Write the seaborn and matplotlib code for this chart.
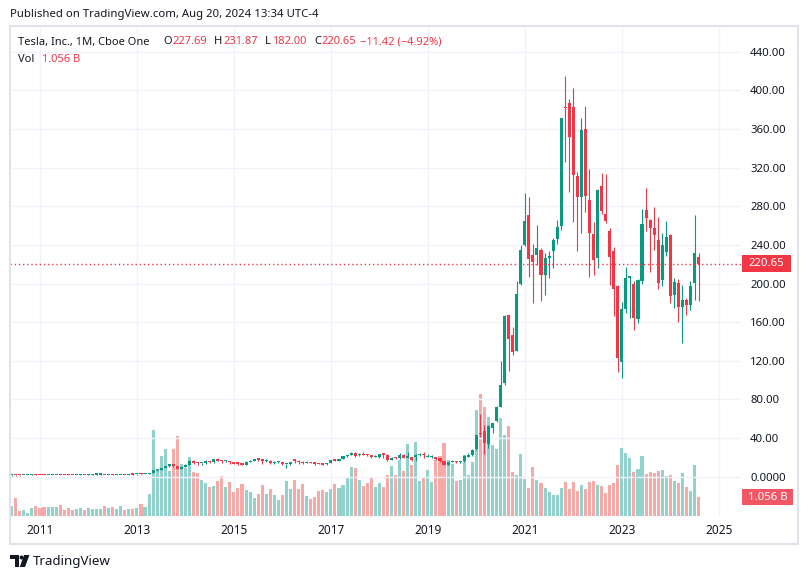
import numpy as np
import pandas as pd
import matplotlib
matplotlib.use("Agg")
import matplotlib.pyplot as plt
import seaborn as sns
from matplotlib.patches import Rectangle, Circle, Polygon

# monthly candles, Jun 2010 .. Aug 2024 (split adjusted)
opens = [
    1.27, 1.67, 1.33, 1.31, 1.37, 1.45, 2.33,                                    # 2010
    1.79, 1.61, 1.60, 1.78, 1.79, 2.00, 1.95, 1.87, 1.65, 1.60, 1.92, 2.18,      # 2011
    1.93, 1.94, 2.25, 2.20, 2.22, 1.99, 2.08, 1.85, 1.92, 1.95, 1.90, 2.28,      # 2012
    2.33, 2.52, 2.36, 2.53, 3.80, 6.45, 7.21, 9.05, 11.27, 12.95, 10.79, 8.43,   # 2013
    10.05, 12.10, 16.33, 14.00, 13.75, 13.80, 15.88, 14.95, 18.05, 16.17, 16.13, 16.30,
    14.86, 13.61, 13.55, 12.58, 15.09, 16.64, 18.07, 17.69, 16.45, 16.58, 13.80, 15.34,
    15.38, 12.70, 12.83, 16.70, 16.69, 14.92, 13.95, 15.60, 14.12, 13.73, 13.16, 12.65,
    14.32, 16.75, 16.68, 18.61, 20.95, 22.74, 24.26, 21.97, 23.83, 22.76, 22.11, 20.54,
    20.80, 23.40, 22.93, 17.69, 19.53, 18.96, 22.64, 19.87, 20.18, 20.30, 22.43, 24.00,
    20.41, 20.57, 20.74, 18.92, 15.91, 12.39, 15.33, 16.17, 15.14, 16.21, 20.84, 22.05,
    28.30, 44.91, 47.42, 33.60, 50.33, 57.20, 72.20, 96.60, 167.40, 146.90, 130.30, 199.20,
    239.82, 271.43, 230.04, 229.46, 234.60, 208.73, 227.00, 233.33, 245.70, 259.47, 381.67, 386.90,
    382.58, 311.74, 289.89, 360.38, 286.92, 251.72, 227.00, 301.28, 272.58, 254.50, 234.05, 197.08,
    118.47, 173.89, 206.21, 199.91, 163.17, 202.59, 276.49, 266.26, 257.26, 244.81, 204.04, 233.14,
    250.08, 188.50, 200.52, 176.17, 182.85, 178.12, 201.02, 227.69,
]
highs = [
    1.67, 1.73, 1.43, 1.48, 1.47, 2.40, 2.40,
    1.83, 1.66, 1.87, 1.88, 2.07, 2.03, 1.99, 1.88, 1.95, 2.00, 2.33, 2.28,
    2.60, 2.33, 2.48, 2.55, 2.25, 2.23, 2.43, 2.02, 2.06, 2.04, 2.30, 2.30,
    2.63, 2.69, 2.60, 3.68, 7.33, 8.15, 9.17, 11.48, 12.97, 12.97, 11.30, 10.92,
    12.95, 17.68, 17.69, 15.67, 14.45, 16.93, 16.37, 18.10, 19.43, 17.26, 16.94, 16.50,
    15.28, 14.74, 14.44, 15.86, 16.87, 18.49, 18.72, 17.97, 18.73, 16.85, 15.97, 16.02,
    15.38, 13.17, 15.51, 17.97, 16.79, 15.79, 15.97, 15.73, 14.76, 14.42, 13.80, 14.38,
    17.30, 18.82, 18.73, 21.69, 22.90, 25.97, 25.70, 24.60, 25.97, 23.84, 22.40, 22.43,
    23.90, 24.03, 23.64, 20.83, 20.70, 24.92, 23.40, 25.83, 20.49, 23.07, 24.44, 25.30,
    23.47, 22.45, 20.79, 19.74, 16.62, 15.25, 17.73, 16.23, 16.57, 22.00, 24.13, 29.02,
    43.53, 64.60, 53.80, 53.80, 55.87, 72.90, 119.67, 167.50, 167.50, 155.30, 202.60, 239.57,
    293.50, 290.15, 241.05, 260.26, 237.33, 232.00, 233.33, 246.80, 266.33, 371.74, 414.50, 390.95,
    402.67, 315.67, 371.59, 384.29, 318.50, 264.21, 298.32, 314.67, 313.80, 257.50, 237.40, 198.92,
    180.68, 217.65, 207.79, 202.69, 204.48, 276.99, 299.29, 266.47, 278.98, 268.94, 252.75, 265.13,
    251.25, 205.60, 204.52, 198.87, 184.77, 203.20, 271.00, 231.87,
]
lows = [
    1.05, 1.00, 1.17, 1.30, 1.35, 1.40, 1.73,
    1.57, 1.44, 1.40, 1.61, 1.75, 1.79, 1.78, 1.51, 1.58, 1.55, 1.85, 1.80,
    1.85, 1.93, 2.17, 2.13, 1.95, 1.94, 1.76, 1.80, 1.85, 1.82, 1.85, 2.17,
    2.23, 2.28, 2.34, 2.53, 3.80, 5.73, 7.09, 8.60, 10.53, 9.99, 7.80, 8.25,
    9.71, 11.83, 13.23, 12.13, 12.03, 13.27, 14.39, 14.28, 16.00, 13.73, 15.69, 13.17,
    12.67, 12.52, 11.90, 12.46, 14.93, 16.39, 16.11, 13.10, 15.74, 13.57, 13.56, 14.53,
    12.50, 9.40, 12.51, 14.57, 13.65, 13.23, 13.73, 14.05, 12.57, 13.07, 12.58, 12.63,
    14.10, 16.37, 16.57, 18.51, 20.11, 22.26, 20.52, 21.04, 22.93, 21.01, 19.11, 20.00,
    19.75, 19.50, 16.55, 16.80, 18.12, 18.56, 19.40, 19.35, 16.56, 16.57, 21.07, 19.70,
    19.93, 19.05, 17.27, 15.40, 12.25, 11.80, 14.87, 14.07, 14.61, 15.13, 20.53, 21.77,
    28.11, 40.76, 23.37, 29.76, 45.57, 56.50, 72.00, 94.70, 109.96, 126.40, 130.00, 199.00,
    239.06, 206.33, 179.83, 219.00, 182.33, 188.00, 206.30, 216.28, 240.60, 255.70, 326.20, 295.37,
    264.00, 233.33, 252.01, 273.90, 206.86, 208.69, 216.16, 271.81, 262.47, 198.59, 166.19, 108.24,
    101.81, 169.93, 163.91, 152.37, 158.83, 199.37, 254.12, 212.36, 234.58, 194.07, 197.85, 228.20,
    180.06, 175.01, 160.51, 138.80, 167.41, 173.00, 182.66, 182.00,
]
closes = [
    1.59, 1.33, 1.30, 1.36, 1.45, 2.33, 1.78,
    1.60, 1.59, 1.85, 1.80, 2.00, 1.94, 1.86, 1.65, 1.63, 1.95, 2.17, 1.90,
    1.95, 2.22, 2.48, 2.22, 1.99, 2.09, 1.84, 1.91, 1.95, 1.90, 2.25, 2.26,
    2.51, 2.33, 2.53, 3.61, 6.45, 7.17, 8.99, 11.29, 12.89, 10.77, 8.43, 10.03,
    12.09, 16.30, 13.90, 13.91, 13.83, 16.00, 14.91, 18.03, 16.18, 16.11, 16.30, 14.83,
    13.57, 13.59, 12.58, 15.08, 16.65, 17.88, 17.77, 16.65, 16.56, 13.80, 15.35, 16.00,
    12.75, 12.77, 15.32, 16.64, 14.93, 14.15, 15.62, 14.21, 13.60, 13.19, 12.62, 14.25,
    16.87, 16.69, 18.55, 20.94, 22.72, 24.11, 21.56, 23.79, 22.74, 22.10, 20.60, 20.76,
    23.62, 22.87, 17.74, 19.59, 18.98, 22.86, 19.88, 20.11, 17.65, 22.49, 23.40, 22.19,
    20.47, 21.33, 18.66, 15.91, 12.34, 14.90, 16.11, 15.04, 16.06, 20.99, 21.99, 27.89,
    43.37, 44.53, 34.93, 52.13, 55.67, 71.99, 95.38, 166.11, 143.00, 129.35, 189.20, 235.22,
    264.51, 225.17, 222.64, 236.48, 208.41, 226.57, 229.07, 245.24, 258.49, 371.33, 381.59, 352.26,
    312.24, 290.14, 359.20, 290.25, 252.75, 224.47, 297.15, 275.61, 265.25, 227.54, 194.70, 123.18,
    173.22, 205.71, 207.46, 164.31, 203.93, 261.77, 267.43, 258.08, 250.22, 200.84, 240.08, 248.48,
    187.29, 201.88, 175.79, 183.28, 178.08, 197.88, 232.07, 220.65,
]
# monthly volume, billions of shares
volumes = [
    0.56, 1.00, 0.28, 0.33, 0.17, 0.44, 0.56,
    0.44, 0.50, 0.50, 0.50, 0.50, 0.61, 0.33, 0.44, 0.33, 0.39, 0.44, 0.33,
    0.44, 0.39, 0.39, 0.39, 0.56, 0.44, 0.50, 0.39, 0.56, 0.33, 0.39, 0.39,
    0.43, 0.67, 0.50, 1.22, 4.78, 2.54, 3.33, 3.72, 2.50, 3.72, 4.44, 2.87,
    2.68, 3.28, 2.44, 2.39, 2.00, 1.83, 1.61, 1.67, 1.94, 2.22, 1.61, 1.89,
    1.33, 1.56, 1.78, 1.44, 1.33, 1.00, 1.22, 1.72, 1.22, 1.50, 1.17, 0.89,
    1.17, 1.94, 1.50, 2.00, 1.50, 1.78, 1.11, 0.94, 1.06, 1.39, 1.44, 1.33,
    1.50, 1.78, 1.56, 1.72, 2.17, 2.72, 2.67, 2.00, 1.67, 1.83, 2.17, 1.61,
    1.83, 1.61, 2.28, 2.78, 2.28, 3.11, 2.50, 4.00, 2.83, 4.11, 1.94, 2.17,
    2.56, 1.89, 3.11, 3.33, 4.06, 3.11, 2.89, 1.94, 2.00, 3.39, 2.28, 3.00,
    5.89, 6.78, 6.06, 5.50, 3.94, 3.72, 5.44, 4.50, 5.00, 2.44, 2.28, 3.44,
    2.06, 1.56, 2.72, 2.00, 1.83, 1.56, 1.33, 1.17, 1.17, 1.56, 1.89, 1.50,
    1.89, 1.39, 1.72, 1.50, 1.89, 1.94, 1.72, 1.67, 1.28, 1.72, 1.83, 2.83,
    3.78, 3.50, 3.22, 2.44, 2.61, 3.33, 2.33, 2.44, 2.39, 2.50, 2.56, 2.22,
    2.28, 1.94, 1.83, 2.39, 1.61, 1.39, 2.83, 1.056,
]
first_year, first_month = 2010, 6
year_labels = ["2011", "2013", "2015", "2017", "2019", "2021", "2023", "2025"]
price_ticks = list(range(0, 441, 40))
last_price = closes[-1]

GREEN = "#089981"
RED = "#f23645"
VOL_UP = "#92d2cc"
VOL_DOWN = "#f7a9a7"
TXT = "#131722"
GRID = "#f0f3fa"

sns.set_theme(style="white")
plt.rcParams['font.family'] = ['Noto Sans', 'DejaVu Sans']

W, H = 808, 579
fig = plt.figure(figsize=(W / 100, H / 100), dpi=100)
fig.patch.set_facecolor("white")


def fx(x):
    return x / W


def fy(y):
    return 1 - y / H


ax = fig.add_axes([fx(10), fy(516), fx(741) - fx(10), fy(26) - fy(516)])
axp = ax.twinx()

n = len(closes)
idx = np.arange(n)
o = np.array(opens)
c = np.array(closes)
hi = np.array(highs)
lo = np.array(lows)
up = c >= o

# volume overlay
df = pd.DataFrame({"i": idx, "vol": volumes, "dir": np.where(up, "up", "down")})
sns.barplot(data=df, x="i", y="vol", hue="dir",
            palette={"up": VOL_UP, "down": VOL_DOWN},
            native_scale=True, dodge=False, width=0.76, errorbar=None,
            legend=False, saturation=1, linewidth=0, ax=ax)

# candles
col = np.where(up, GREEN, RED)
axp.vlines(idx, lo, hi, colors=col, linewidth=0.8, zorder=3)
body_low = np.minimum(o, c)
body_h = np.maximum(np.abs(c - o), 1.2)
axp.bar(idx, body_h, bottom=body_low, width=0.76, color=col, linewidth=0, zorder=4)

axp.axhline(last_price, color=RED, lw=1, ls=(0, (1, 2)), zorder=5)

# axes styling
year_pos = [(int(y) - first_year) * 12 - (first_month - 1) for y in year_labels]
ax.set_xlim(-0.42, 180.5)
ax.set_ylim(0, 27.2)
axp.set_ylim(-40.7, 466.8)
ax.set_xticks(year_pos)
ax.set_xticklabels(year_labels)
ax.set_yticks([])
ax.set_xlabel("")
ax.set_ylabel("")
ax.grid(axis="x", color=GRID, lw=1)
ax.set_axisbelow(True)
ax.tick_params(axis="x", length=0, pad=6, labelsize=8.5, labelcolor=TXT)

axp.set_yticks(price_ticks)
axp.set_yticklabels(["0.0000" if p == 0 else f"{p:.2f}" for p in price_ticks])
axp.grid(axis="y", color=GRID, lw=1)
axp.tick_params(axis="y", length=0, pad=6.5, labelsize=8.2, labelcolor=TXT)
for a in (ax, axp):
    for s in a.spines.values():
        s.set_visible(False)

# outer frame
fig.patches.append(Rectangle((fx(10), fy(544)), fx(798) - fx(10), fy(26) - fy(544),
                             transform=fig.transFigure, fill=False,
                             edgecolor="#e0e3eb", lw=1.5))

# header texts
fig.text(fx(10), fy(15), "Published on TradingView.com, Aug 20, 2024 13:34 UTC-4",
         fontsize=8.2, color=TXT, va="center", ha="left")

renderer = fig.canvas.get_renderer()
LEG_FS = 8.0


def text_after(x, y, s, color):
    # place a text at pixel x and return the pixel x where it ends
    t = fig.text(fx(x), fy(y), s, fontsize=LEG_FS, color=color, va="center", ha="left")
    bb = t.get_window_extent(renderer=renderer)
    return bb.x1


text_after(18, 42, "Tesla, Inc., 1M, Cboe One", TXT)
legend_parts = [("O", "227.69", 163), ("H", "231.87", 214), ("L", "182.00", 265),
                ("C", "220.65", 314)]
for lab, val, x in legend_parts:
    end = text_after(x, 42, lab, TXT)
    text_after(end + 1, 42, val, RED)
text_after(360, 42, "\u221211.42 (\u22124.92%)", RED)
text_after(18, 60, "Vol", TXT)
text_after(42, 60, "1.056 B", RED)

# price / volume labels on the right scale
fig.patches.append(Rectangle((fx(742), fy(272)), fx(791) - fx(742), fy(255) - fy(272),
                             transform=fig.transFigure, color=RED, lw=0))
fig.text(fx(766.5), fy(263.5), f"{last_price:.2f}", fontsize=8.2, color="white",
         fontweight="bold", va="center", ha="center")
fig.patches.append(Rectangle((fx(742), fy(505)), fx(793) - fx(742), fy(489) - fy(505),
                             transform=fig.transFigure, color="#f25563", lw=0))
fig.text(fx(767.5), fy(497), "1.056 B", fontsize=8.2, color="white",
         fontweight="bold", va="center", ha="center")

# TradingView logo
logo = [Rectangle((fx(10), fy(559)), fx(19) - fx(10), fy(555) - fy(559)),
        Rectangle((fx(15), fy(567)), fx(19) - fx(15), fy(555) - fy(567))]
for r in logo:
    r.set_transform(fig.transFigure)
    r.set_color(TXT)
    r.set_linewidth(0)
    fig.patches.append(r)
fig.patches.append(Circle((21.5, H - 557.5), 2.0, transform=None, color=TXT, lw=0))
fig.patches.append(Polygon([(24, H - 555), (29.5, H - 555), (25, H - 567), (19.8, H - 567)],
                           closed=True, transform=None, color=TXT, lw=0))
fig.text(fx(33), fy(561), "TradingView", fontsize=9.6, color=TXT, va="center", ha="left")

fig.savefig("out.png", dpi=100)
